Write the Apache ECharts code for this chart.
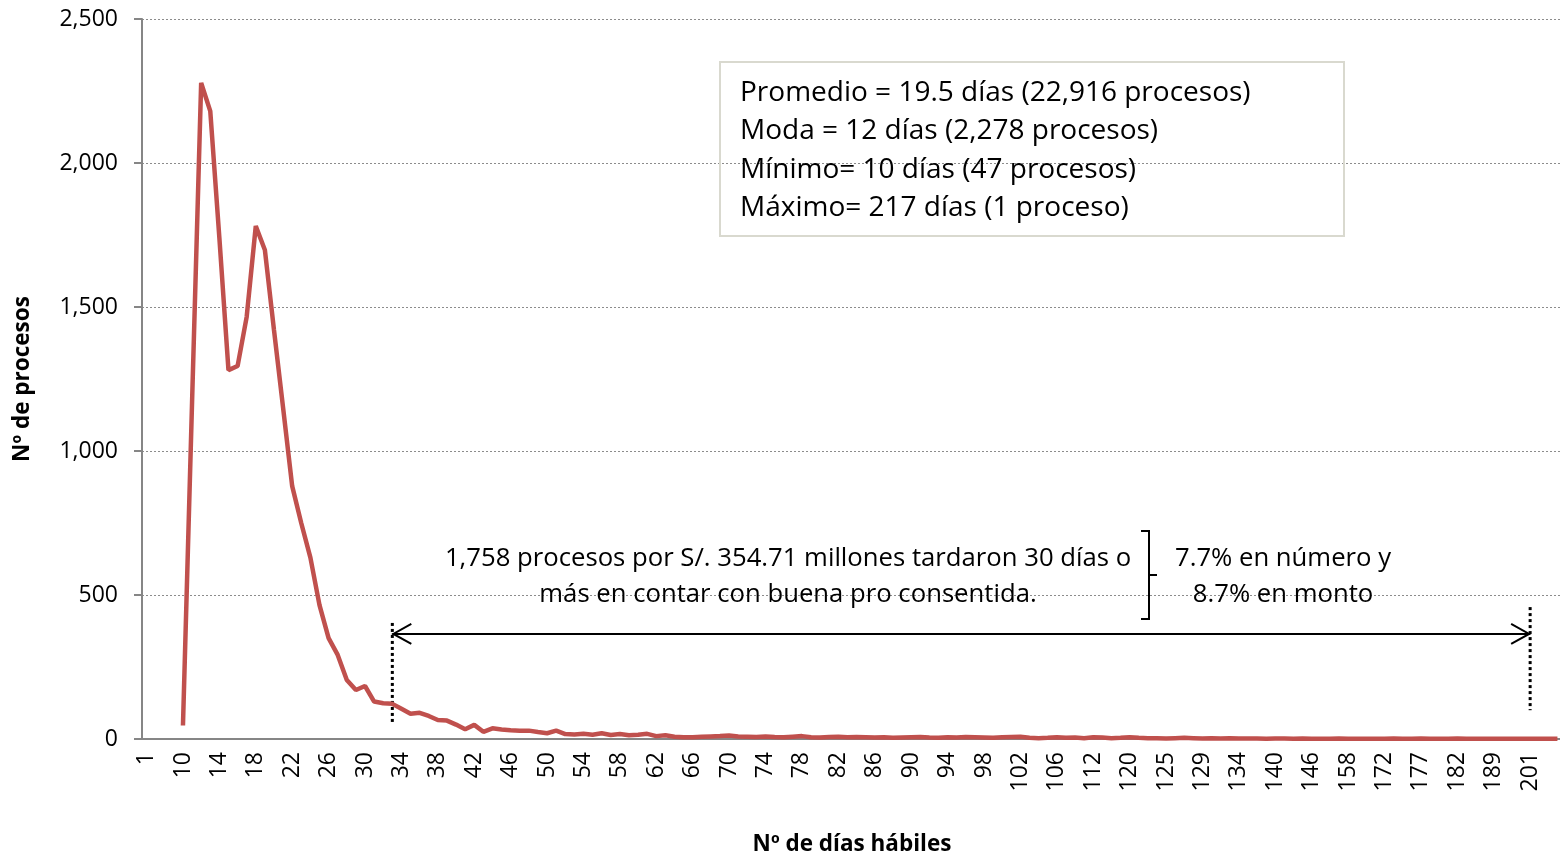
<!DOCTYPE html>
<html>
<head>
<meta charset="utf-8">
<script src="https://cdn.jsdelivr.net/npm/echarts@6/dist/echarts.min.js"></script>
<style>
  html, body { margin: 0; padding: 0; background: #fff; }
  #chart { width: 1560px; height: 853px; }
</style>
</head>
<body>
<div id="chart"></div>
<script>
// dias habiles (categorias del eje x)
const dias = [
  '1', '7', '8', '9',
  '10', '11', '12', '13', '14', '15', '16', '17', '18', '19', '20', '21', '22', '23', '24', '25',
  '26', '27', '28', '29', '30', '31', '32', '33', '34', '35', '36', '37', '38', '39', '40', '41',
  '42', '43', '44', '45', '46', '47', '48', '49', '50', '51', '52', '53', '54', '55', '56', '57',
  '58', '59', '60', '61', '62', '63', '64', '65', '66', '67', '68', '69', '70', '71', '72', '73',
  '74', '75', '76', '77', '78', '79', '80', '81', '82', '83', '84', '85', '86', '87', '88', '89',
  '90', '91', '92', '93', '94', '95', '96', '97', '98', '99', '100', '101',
  '102', '103', '104', '105', '106', '107', '108', '110', '112', '113', '115', '117', '120', '121',
  '122', '124', '125', '126', '127', '128', '129', '130', '132', '133', '134', '135', '137', '138',
  '140', '141', '143', '144', '146', '149', '152', '155', '158', '162', '165', '168', '172', '173',
  '175', '176', '177', '178', '180', '181', '182', '184', '186', '187', '189', '192', '195', '198',
  '201', '205', '210', '217'
]

// Nº de procesos por dia
const procesos = [
  null, null, null, null,
  47, 1170, 2278, 2180, 1740, 1281, 1295, 1466, 1781, 1698, 1420, 1150, 878, 749, 630, 465,
  350, 292, 205, 170, 184, 130, 124, 122, 105, 88, 91, 80, 66, 64, 50, 34,
  49, 25, 37, 33, 30, 29, 29, 24, 20, 29, 17, 16, 18, 15, 20, 14,
  17, 13, 15, 18, 10, 13, 8, 6, 6, 8, 9, 10, 12, 9, 8, 7,
  9, 7, 6, 8, 10, 6, 5, 7, 8, 6, 7, 6, 5, 6, 4, 5,
  6, 7, 5, 4, 6, 5, 7, 6, 5, 4, 6, 7,
  8, 4, 3, 4, 6, 4, 5, 3, 6, 5, 3, 4, 6, 4,
  3, 3, 2, 3, 4, 3, 2, 3, 2, 3, 2, 2, 2, 1,
  2, 2, 1, 2, 1, 1, 1, 2, 1, 1, 1, 1, 1, 2,
  1, 1, 2, 1, 1, 1, 2, 1, 1, 1, 1, 1, 1, 1,
  1, 1, 1, 1
]

const yMax = 2500
const yStep = 500

const resumen = [
  'Promedio = 19.5 días (22,916 procesos)',
  'Moda = 12 días (2,278 procesos)',
  'Mínimo= 10 días (47 procesos)',
  'Máximo= 217 días (1 proceso)'
]
const nota = [
  '1,758 procesos por S/. 354.71 millones tardaron 30 días o',
  'más en contar con buena pro consentida.'
]
const porcentajes = ['7.7% en número y', '8.7% en monto']

// tramo de la flecha (desde / hasta) y altura en el eje y
const tramo = ['33', '201']
const alturaFlecha = 365
const guiaIzq = [403, 49]
const guiaDer = [458, 100]

const FONT = '"Open Sans", sans-serif'
const chart = echarts.init(document.getElementById('chart'))

chart.setOption({
  animation: false,
  grid: { left: 142, top: 19, width: 1420, height: 720, outerBoundsMode: 'none' },
  xAxis: {
    type: 'category',
    data: dias,
    boundaryGap: true,
    axisLine: { lineStyle: { color: '#868686', width: 2 } },
    axisTick: { interval: 0, length: 7, lineStyle: { color: '#868686', width: 2 } },
    axisLabel: { interval: 3, rotate: 90, fontFamily: FONT, fontSize: 23, color: '#000', margin: 13 },
    name: 'Nº de días hábiles',
    nameLocation: 'middle',
    nameGap: 94,
    nameTextStyle: { fontFamily: FONT, fontWeight: 'bold', fontSize: 22.5, color: '#000' }
  },
  yAxis: {
    type: 'value',
    min: 0,
    max: yMax,
    interval: yStep,
    axisLine: { show: true, lineStyle: { color: '#868686', width: 2 } },
    axisTick: { show: true, length: 8, lineStyle: { color: '#868686', width: 2 } },
    splitLine: { lineStyle: { color: '#8c8c8c', type: [2, 2], width: 1 } },
    axisLabel: {
      fontFamily: FONT, fontSize: 23, color: '#000', margin: 24,
      formatter: (v) => v.toLocaleString('en-US')
    },
    name: 'Nº de procesos',
    nameLocation: 'middle',
    nameGap: 108,
    nameTextStyle: { fontFamily: FONT, fontWeight: 'bold', fontSize: 22.5, color: '#000' }
  },
  series: [{
    type: 'line',
    data: procesos,
    symbol: 'none',
    connectNulls: false,
    lineStyle: { color: '#c0504d', width: 4.5 },
    itemStyle: { color: '#c0504d' }
  }]
})

// anotaciones: se ubican con las escalas del grafico
const px = (cat, v) => chart.convertToPixel({ gridIndex: 0 }, [dias.indexOf(cat), v])
const [xa, ya] = px(tramo[0], alturaFlecha)
const [xb] = px(tramo[1], alturaFlecha)
const l1 = px(tramo[0], guiaIzq[0]), l2 = px(tramo[0], guiaIzq[1])
const r1 = px(tramo[1], guiaDer[0]), r2 = px(tramo[1], guiaDer[1])

const txt = (x, y, text, align, size) => ({
  type: 'text', x, y, silent: true,
  style: { text, font: size + 'px ' + FONT, fill: '#000', align, verticalAlign: 'middle' }
})

const graphics = [
  { type: 'rect', shape: { x: 720, y: 62, width: 624, height: 174 },
    style: { fill: 'none', stroke: '#d9d9cf', lineWidth: 2 } },
  ...resumen.map((t, i) => txt(740, 93 + i * 38.5, t, 'left', 28)),
  ...nota.map((t, i) => txt(788, 559 + i * 36, t, 'center', 25.7)),
  ...porcentajes.map((t, i) => txt(1283, 559 + i * 36, t, 'center', 25.7)),
  // llave
  { type: 'polyline', shape: { points: [[1141, 531], [1149, 531], [1149, 619], [1141, 619]] },
    style: { stroke: '#000', lineWidth: 2, fill: 'none' } },
  { type: 'line', shape: { x1: 1149, y1: 575, x2: 1157, y2: 575 }, style: { stroke: '#000', lineWidth: 2 } },
  // guias punteadas
  { type: 'line', shape: { x1: l1[0], y1: l1[1], x2: l2[0], y2: l2[1] },
    style: { stroke: '#000', lineWidth: 3, lineDash: [3, 3] } },
  { type: 'line', shape: { x1: r1[0], y1: r1[1], x2: r2[0], y2: r2[1] },
    style: { stroke: '#000', lineWidth: 3, lineDash: [3, 3] } },
  // flecha doble
  { type: 'line', shape: { x1: xa, y1: ya, x2: xb, y2: ya }, style: { stroke: '#000', lineWidth: 2 } },
  { type: 'polyline', shape: { points: [[xa + 19, ya - 10], [xa + 1, ya], [xa + 19, ya + 10]] },
    style: { stroke: '#000', lineWidth: 2, fill: 'none' } },
  { type: 'polyline', shape: { points: [[xb - 19, ya - 10], [xb - 1, ya], [xb - 19, ya + 10]] },
    style: { stroke: '#000', lineWidth: 2, fill: 'none' } }
]

chart.setOption({ graphic: graphics })
window.addEventListener('resize', () => chart.resize())
</script>
</body>
</html>
